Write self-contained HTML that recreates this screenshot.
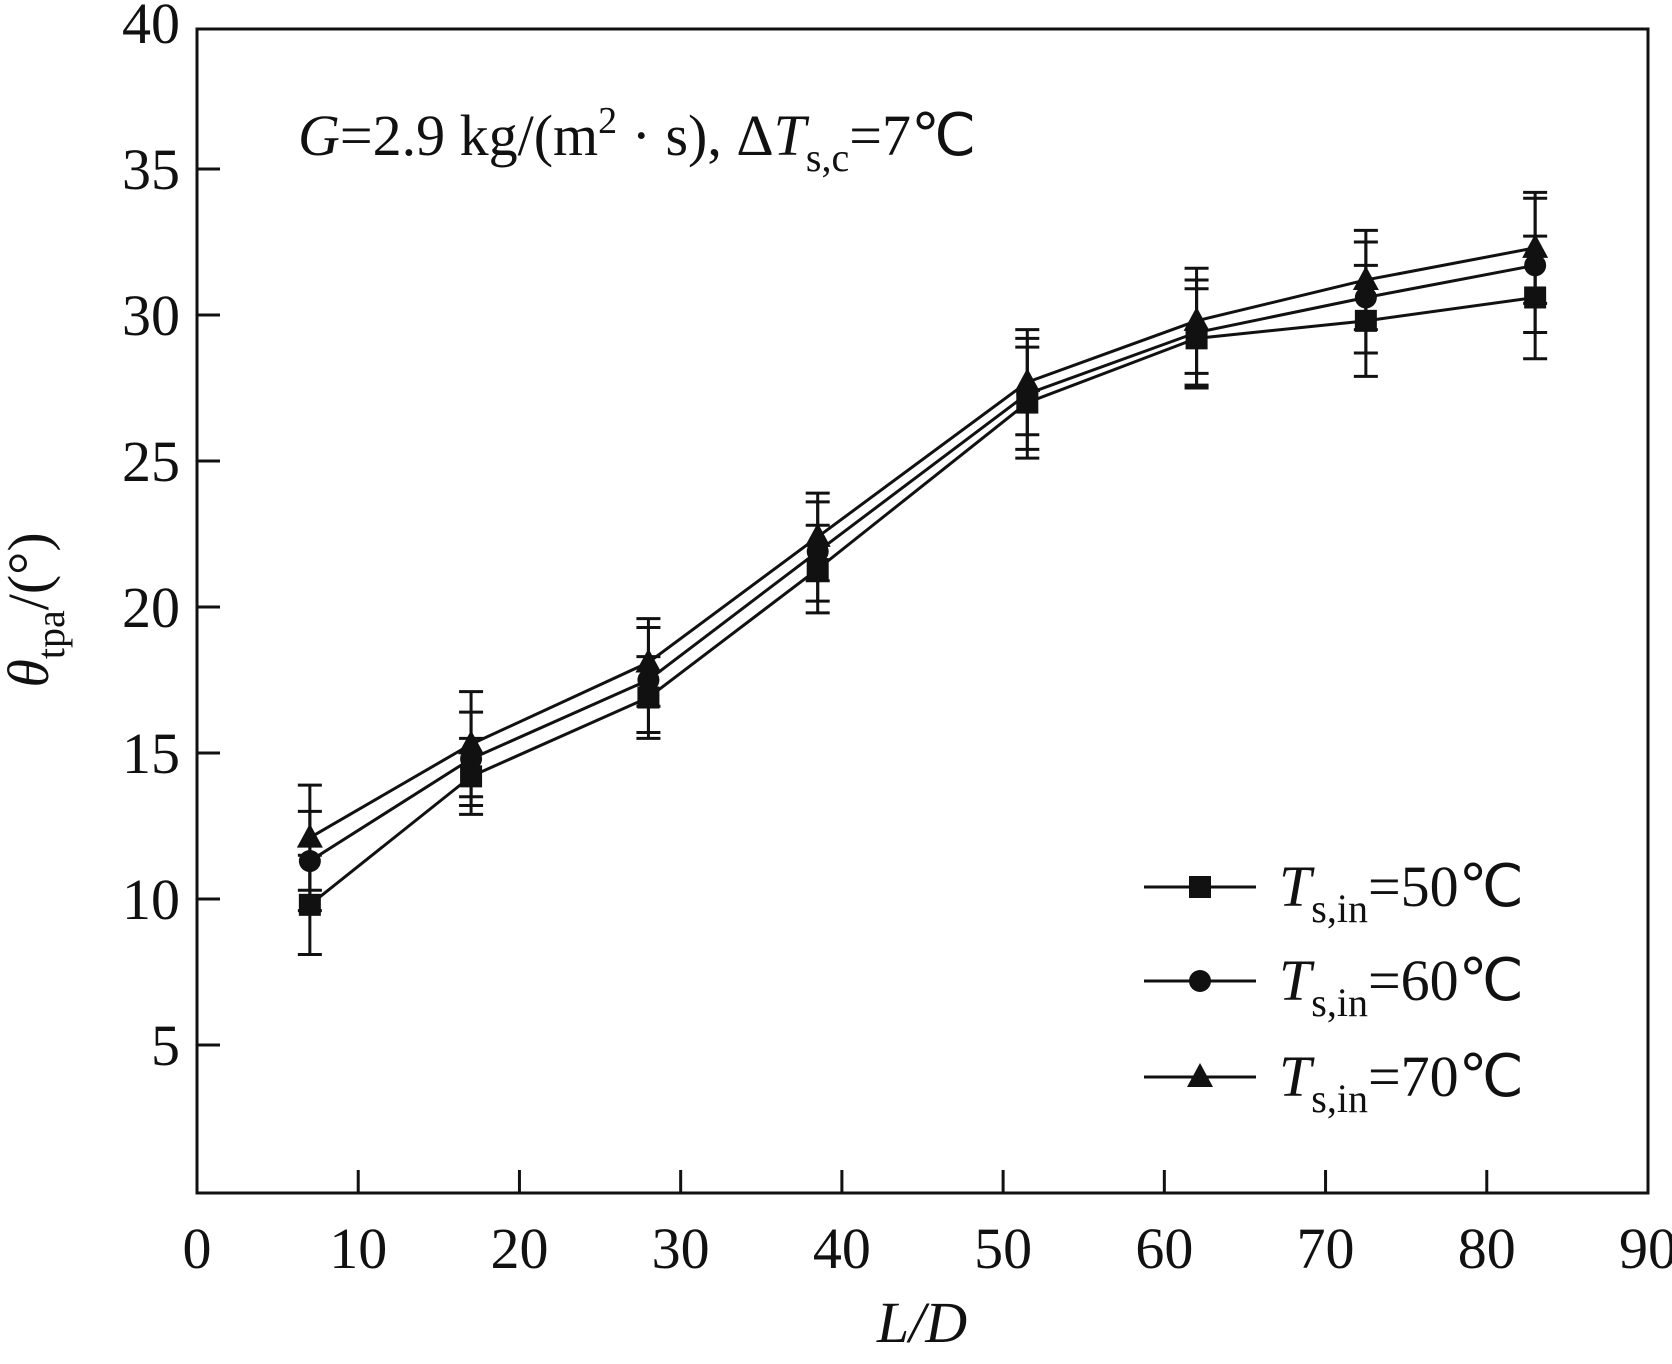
<!DOCTYPE html>
<html><head><meta charset="utf-8"><style>
body{margin:0;background:#fff}
svg{display:block;font-family:"Liberation Serif",serif;fill:#111}
</style></head><body>
<svg id="chart" width="1672" height="1364" viewBox="0 0 1672 1364">
<rect x="197" y="29" width="1451" height="1164" fill="none" stroke="#111" stroke-width="3"/>
<g id="axes"></g>
<g id="series"></g>
<text x="298" y="155" font-size="58"><tspan font-style="italic">G</tspan>=2.9 kg/(m<tspan font-size="38" dy="-22">2</tspan><tspan dy="22"> · s), Δ</tspan><tspan font-style="italic">T</tspan><tspan font-size="40" dy="16">s,c</tspan><tspan dy="-16">=7℃</tspan></text>
<text transform="translate(48,610) rotate(-90)" text-anchor="middle" font-size="58"><tspan font-style="italic">θ</tspan><tspan font-size="40" dy="16">tpa</tspan><tspan dy="-16">/(°)</tspan></text>
<text x="922" y="1342" text-anchor="middle" font-size="58" font-style="italic">L/D</text>
<g id="legend"></g>
</svg>
<script>
const xValues=[7,17,28,38.5,51.5,62,72.5,83];
const seriesNames=["T50","T60","T70"];
const legendTemps=["50","60","70"];
const s50=[9.8,14.2,16.9,21.3,27.0,29.2,29.8,30.6];
const s60=[11.3,14.8,17.5,21.9,27.3,29.4,30.6,31.7];
const s70=[12.1,15.3,18.1,22.4,27.7,29.8,31.2,32.3];
const e50=[1.7,1.3,1.4,1.5,1.9,1.7,1.9,2.1];
const e60=[1.7,1.6,1.8,1.7,1.9,1.8,1.9,2.3];
const e70=[1.8,1.8,1.5,1.5,1.8,1.8,1.7,1.9];
const xTicks=[0,10,20,30,40,50,60,70,80,90];
const yTicks=[5,10,15,20,25,30,35,40];
const NS="http://www.w3.org/2000/svg";
const X=v=>197+v*(1451/90);
const Y=v=>1191-v*29.2;
function mk(t,a,p){const e=document.createElementNS(NS,t);for(const k in a)e.setAttribute(k,a[k]);p.appendChild(e);return e;}
const axes=document.getElementById('axes');
xTicks.forEach(t=>{
 if(t>0&&t<90){const l=mk('line',{x1:X(t),x2:X(t),y1:1193,y2:1170,stroke:'#111','stroke-width':3},axes);
 
 }
 const tx=mk('text',{x:X(t),y:1268,'text-anchor':'middle','font-size':58},axes);tx.textContent=t;
 
 
});
yTicks.forEach(t=>{
 if(t<40){const l=mk('line',{x1:197,x2:220,y1:Y(t),y2:Y(t),stroke:'#111','stroke-width':3},axes);
 
 }
 const tx=mk('text',{x:180,y:Y(t)+20,'text-anchor':'end','font-size':58},axes);tx.textContent=t;
 
 
});
function marker(type,cx,cy,p){
 let m;
 if(type===0)m=mk('rect',{x:cx-11,y:cy-11,width:22,height:22},p);
 else if(type===1)m=mk('circle',{cx:cx,cy:cy,r:11},p);
 else m=mk('polygon',{points:`${cx},${cy-14} ${cx+13},${cy+10} ${cx-13},${cy+10}`},p);
 m.setAttribute('fill','#111');
 return m;
}
const sg=document.getElementById('series');
const data=[s50,s60,s70],errs=[e50,e60,e70];
data.forEach((s,si)=>{
 const g=mk('g',{},sg);
 
 
 const pl=mk('polyline',{points:s.map((v,i)=>X(xValues[i])+','+Y(v)).join(' '),fill:'none',stroke:'#111','stroke-width':3},g);
 
 
 s.forEach((v,i)=>{
  const x=X(xValues[i]),e=errs[si][i];
  const eb=mk('path',{d:`M${x},${Y(v-e)}V${Y(v+e)}M${x-12},${Y(v-e)}H${x+12}M${x-12},${Y(v+e)}H${x+12}`,stroke:'#111','stroke-width':3,fill:'none'},g);
  
  
  const m=marker(si,x,Y(v),g);
  
  
 });
});
const lg=document.getElementById('legend');
[887,981,1077].forEach((ly,i)=>{
 const g=mk('g',{},lg);
 
 
 mk('line',{x1:1144,x2:1256,y1:ly,y2:ly,stroke:'#111','stroke-width':3},g);
 marker(i,1200,ly,g);
 const t=mk('text',{x:1279,y:ly+19,'font-size':58},g);
 t.innerHTML=`<tspan font-style="italic">T</tspan><tspan font-size="40" dy="16">s,in</tspan><tspan dy="-16">=${legendTemps[i]}℃</tspan>`;
});
</script>
</body></html>
